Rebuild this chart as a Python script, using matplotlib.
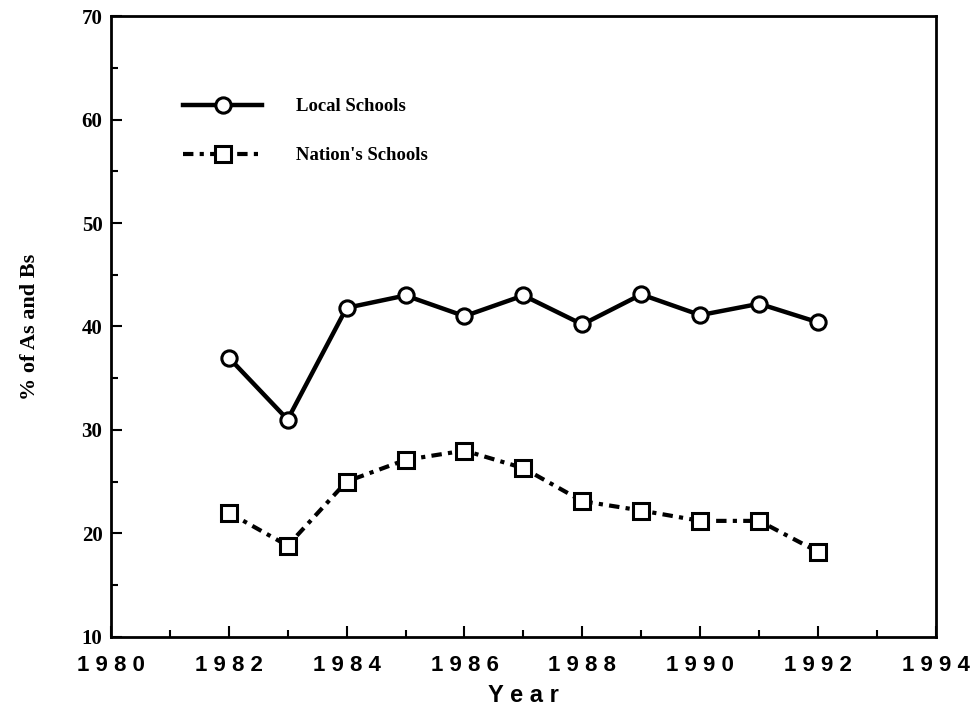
import matplotlib.pyplot as plt
from matplotlib.ticker import MultipleLocator

years = [1982, 1983, 1984, 1985, 1986, 1987, 1988, 1989, 1990, 1991, 1992]
local_schools = [37, 31, 41.8, 43, 41, 43, 40.2, 43.1, 41.1, 42.2, 40.4]
nation_schools = [22, 18.8, 25, 27.1, 28, 26.3, 23.1, 22.2, 21.2, 21.2, 18.2]

x_ticks = [1980, 1982, 1984, 1986, 1988, 1990, 1992, 1994]
y_ticks = [10, 20, 30, 40, 50, 60, 70]

serif = ["Liberation Serif", "DejaVu Serif"]
sans = ["Liberation Sans Narrow", "Liberation Sans", "DejaVu Sans"]

fig = plt.figure(figsize=(9.72, 7.09), dpi=100)
ax = fig.add_axes([0.114, 0.102, 0.849, 0.875])

ax.plot(years, local_schools, color="black", lw=3.2, marker="o", ms=11,
        mfc="white", mec="black", mew=2.2, label="Local Schools")
ax.plot(years, nation_schools, color="black", lw=3, ls=(0, (2.5, 1.5, 1, 1.5)),
        marker="s", ms=12, mfc="white", mec="black", mew=2.2,
        label="Nation's Schools")

ax.set_xlim(1980, 1994)
ax.set_ylim(10, 70)
ax.set_xticks(x_ticks)
ax.set_xticklabels([" ".join(str(t)) for t in x_ticks], fontfamily=sans,
                   fontweight="bold", fontsize=16)
ax.set_yticks(y_ticks)
ax.set_yticklabels([str(t) for t in y_ticks], fontfamily=serif,
                   fontweight="bold", fontsize=15)
ax.xaxis.set_minor_locator(MultipleLocator(1))
ax.yaxis.set_minor_locator(MultipleLocator(5))
ax.tick_params(which="major", direction="in", length=8, width=1.5)
ax.tick_params(which="minor", direction="in", length=5, width=1.5)
ax.tick_params(axis="x", which="major", pad=13)
ax.tick_params(axis="y", which="major", pad=6)

for s in ax.spines.values():
    s.set_linewidth(2)

ax.set_xlabel("Y e a r", fontfamily=sans, fontweight="bold", fontsize=17,
              labelpad=6)
ax.set_ylabel("% of As and Bs", fontfamily=serif, fontweight="bold",
              fontsize=16, labelpad=30)

ax.legend(loc="upper left", bbox_to_anchor=(0.088, 0.868), frameon=False,
          borderpad=0, borderaxespad=0,
          handlelength=4.2, handletextpad=1.8, labelspacing=1.7,
          prop={"family": serif, "weight": "bold", "size": 13.5})

fig.savefig("out.png", dpi=100)
